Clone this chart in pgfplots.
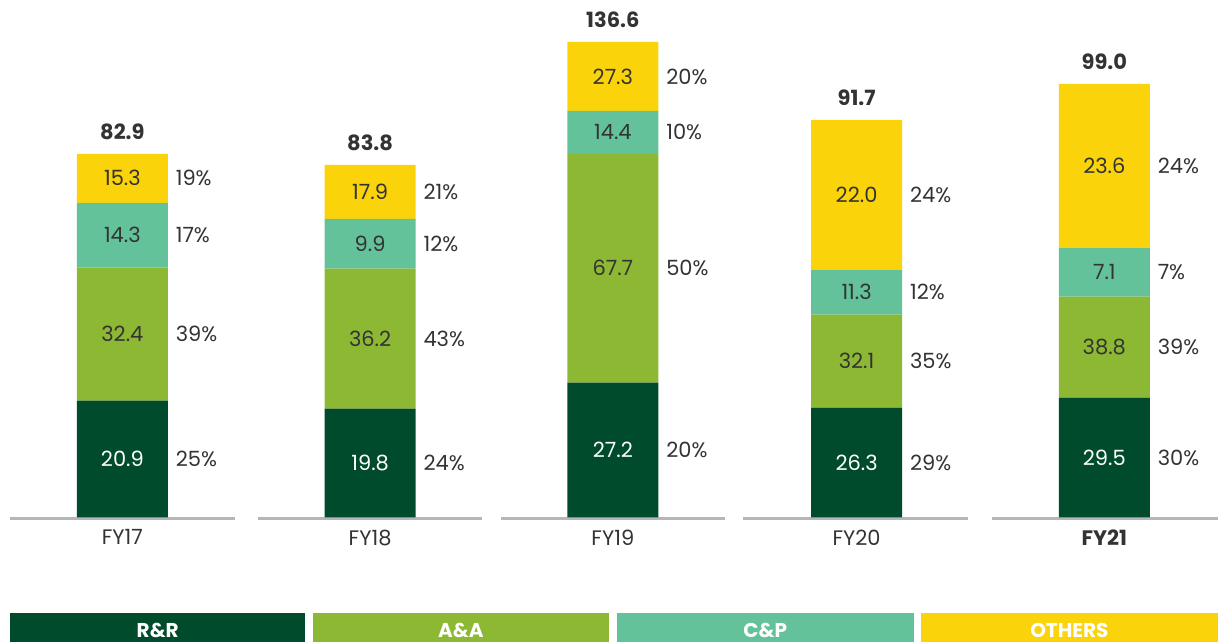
\documentclass[border=0pt]{standalone}
\usepackage{fontspec}
\setmainfont{Poppins}
\usepackage{pgfplots}
\usepackage{pgfplotstable}
\pgfplotsset{compat=1.18}

\definecolor{rr}{RGB}{0,75,43}
\definecolor{aa}{RGB}{141,184,51}
\definecolor{cp}{RGB}{99,194,154}
\definecolor{ot}{RGB}{250,211,10}
\definecolor{txt}{RGB}{51,51,51}
\definecolor{base}{RGB}{182,182,186}

% value inside the bar, share to the right of it
\protected\def\lab#1#2{\makebox[0pt][c]{#1}\makebox[0pt][l]{\hspace{26.75pt}\textcolor{txt}{#2\%}}}

% h = drawn segment height (the source chart is not to scale)
\pgfplotstableread{
x      h   lab
122.5  117 \lab{20.9}{25}
370.5  109 \lab{19.8}{24}
613.5  135 \lab{27.2}{20}
857.5  110 \lab{26.3}{29}
1105.5 120 \lab{29.5}{30}
}\rrdata
\pgfplotstableread{
x      h   lab
122.5  133 \lab{32.4}{39}
370.5  140 \lab{36.2}{43}
613.5  229 \lab{67.7}{50}
857.5  93  \lab{32.1}{35}
1105.5 101 \lab{38.8}{39}
}\aadata
\pgfplotstableread{
x      h   lab
122.5  65  \lab{14.3}{17}
370.5  50  \lab{9.9}{12}
613.5  43  \lab{14.4}{10}
857.5  45  \lab{11.3}{12}
1105.5 49  \lab{7.1}{7}
}\cpdata
\pgfplotstableread{
x      h   lab
122.5  49  \lab{15.3}{19}
370.5  54  \lab{17.9}{21}
613.5  69  \lab{27.3}{20}
857.5  150 \lab{22.0}{24}
1105.5 164 \lab{23.6}{24}
}\otdata
% top = drawn bar top, tot = printed total
\pgfplotstableread{
x      top tot
122.5  364 82.9
370.5  353 83.8
613.5  476 136.6
857.5  398 91.7
1105.5 434 99.0
}\totdata

\pgfplotsset{
  frame/.style={x=0.5pt, y=0.5pt, xmin=0, xmax=1219, ymin=0, ymax=518,
    enlargelimits=false, clip=false},
  seg/.style 2 args={fill=#1, draw=none,
    nodes near coords, point meta=explicit symbolic,
    every node near coord/.append style={anchor=center, inner sep=0pt,
      font=\fontsize{10.5}{12}\selectfont, text=#2}},
}
\tikzset{legbox/.style={text=white, inner sep=0pt, font=\fontsize{10}{11}\selectfont}}

\begin{document}
\begin{tikzpicture}
\begin{axis}[frame,
  ybar stacked, bar width=45.5pt,
  axis lines=left, axis line style={draw=none}, tick style={draw=none},
  ytick=\empty,
  xtick={122.5,370.5,613.5,857.5,1105.5},
  xticklabels={FY17,FY18,FY19,FY20,\textbf{FY21}},
  xticklabel style={font=\fontsize{10.5}{12}\selectfont, text=txt, yshift=-0.5pt},
]
\addplot[seg={rr}{white}] table[x=x, y=h, meta=lab] {\rrdata};
\addplot[seg={aa}{txt}] table[x=x, y=h, meta=lab] {\aadata};
\addplot[seg={cp}{txt}] table[x=x, y=h, meta=lab] {\cpdata};
\addplot[seg={ot}{txt}] table[x=x, y=h, meta=lab] {\otdata};

% broken baseline under each year
\draw[base, line width=1.3pt] (axis cs:10,-1.3) -- (axis cs:235,-1.3);
\draw[base, line width=1.3pt] (axis cs:258,-1.3) -- (axis cs:483,-1.3);
\draw[base, line width=1.3pt] (axis cs:502,-1.3) -- (axis cs:726,-1.3);
\draw[base, line width=1.3pt] (axis cs:744,-1.3) -- (axis cs:969,-1.3);
\draw[base, line width=1.3pt] (axis cs:993,-1.3) -- (axis cs:1219,-1.3);
\coordinate (o) at (axis cs:0,0);
\end{axis}

% totals above the bars
\begin{axis}[frame, hide axis]
\addplot[draw=none, mark=none, nodes near coords={\textbf{\pgfplotspointmeta}},
  point meta=explicit symbolic,
  every node near coord/.append style={anchor=south, inner sep=0pt, yshift=7pt,
    font=\fontsize{10.5}{12}\selectfont, text=txt}]
  table[x=x, y=top, meta=tot] {\totdata};
\end{axis}

% legend strip
\fill[rr] ([shift={(5pt,-48pt)}]o) rectangle ([shift={(152.85pt,-62.5pt)}]o);
\fill[aa] ([shift={(156.65pt,-48pt)}]o) rectangle ([shift={(304.75pt,-62.5pt)}]o);
\fill[cp] ([shift={(308.75pt,-48pt)}]o) rectangle ([shift={(457.25pt,-62.5pt)}]o);
\fill[ot] ([shift={(461pt,-48pt)}]o) rectangle ([shift={(609.5pt,-62.5pt)}]o);
\node[legbox] at ([shift={(78.95pt,-56.5pt)}]o) {\textbf{R\&R}};
\node[legbox] at ([shift={(230.7pt,-56.5pt)}]o) {\textbf{A\&A}};
\node[legbox] at ([shift={(383pt,-56.5pt)}]o) {\textbf{C\&P}};
\node[legbox] at ([shift={(535.25pt,-56.5pt)}]o) {\textbf{OTHERS}};
\end{tikzpicture}
\end{document}
